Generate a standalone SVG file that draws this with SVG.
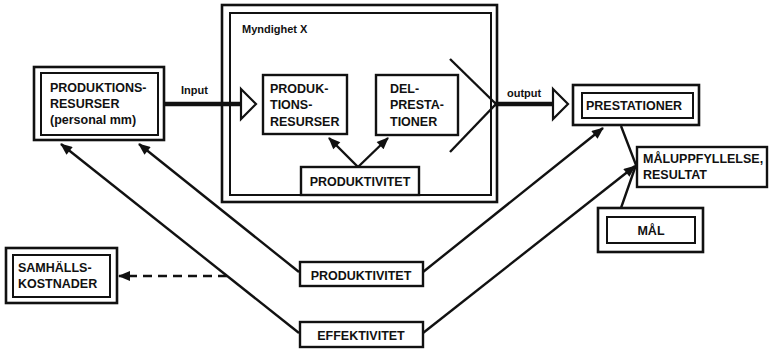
<svg xmlns="http://www.w3.org/2000/svg" width="771" height="351" viewBox="0 0 771 351">
<defs>
<style>
rect{fill:none;stroke:#111}
.o{stroke-width:2.6}
.i{stroke-width:2}
.s{stroke-width:2.4;fill:#fff}
text{font-family:"Liberation Sans",Arial,sans-serif;font-weight:bold;font-size:12.5px;fill:#111}
.sm{font-size:11px}
.c{text-anchor:middle}
.ln{stroke:#111;stroke-width:2.4;fill:none}
.thick{stroke:#111;stroke-width:4.5;fill:none}
.tri{stroke:#111;stroke-width:2.2;fill:#fff}
.dash{stroke:#111;stroke-width:2.4;fill:none;stroke-dasharray:9 6}
</style>
<marker id="ah" viewBox="0 0 12 10" refX="11" refY="5" markerWidth="13" markerHeight="10" markerUnits="userSpaceOnUse" orient="auto">
<path d="M0,0 L12,5 L0,10 Z" fill="#111"/>
</marker>
</defs>
<rect width="771" height="351" fill="#fff" style="stroke:none"/>

<g id="myndighet">
<rect class="o" x="222" y="5" width="275" height="197"/>
<rect class="i" x="230" y="13" width="261" height="182"/>
<text class="sm" x="242" y="33">Myndighet X</text>
</g>

<g id="connectors">
<line class="thick" x1="164" y1="104" x2="242" y2="104"/>
<path class="tri" d="M241,89 L256,104 L241,119 Z"/>
<line class="ln" x1="450" y1="59" x2="496" y2="104"/>
<line class="ln" x1="450" y1="152" x2="496" y2="104"/>
<line class="thick" x1="495" y1="104" x2="554" y2="104"/>
<path class="tri" d="M553,89 L568,104 L553,119 Z"/>
<line class="ln" x1="358" y1="167" x2="329" y2="138" marker-end="url(#ah)"/>
<line class="ln" x1="358" y1="167" x2="388" y2="138" marker-end="url(#ah)"/>
<line class="ln" x1="299" y1="272" x2="139" y2="144" marker-end="url(#ah)"/>
<line class="ln" x1="299" y1="333" x2="61" y2="144" marker-end="url(#ah)"/>
<line class="ln" x1="423" y1="272" x2="603" y2="128" marker-end="url(#ah)"/>
<line class="ln" x1="423" y1="333" x2="635" y2="166" marker-end="url(#ah)"/>
<line class="dash" x1="227" y1="276" x2="119" y2="276" marker-end="url(#ah)"/>
<polyline class="ln" points="621,126 636,165 621,208"/>
<text class="sm" x="181" y="94">Input</text>
<text class="sm" x="507" y="97">output</text>
</g>

<g id="produktionsresurser">
<rect class="o" x="34" y="67" width="130" height="73"/>
<rect class="i" x="41" y="73" width="117" height="62"/>
<text x="50" y="92">PRODUKTIONS-</text>
<text x="50" y="108">RESURSER</text>
<text x="50" y="124">(personal mm)</text>
</g>

<g id="inner-produktionsresurser">
<rect class="s" x="263" y="75" width="84" height="59"/>
<text x="270" y="93">PRODUK-</text>
<text x="270" y="109">TIONS-</text>
<text x="270" y="126">RESURSER</text>
</g>

<g id="delprestationer">
<rect class="s" x="376" y="75" width="82" height="60"/>
<text x="390" y="93">DEL-</text>
<text x="390" y="109">PRESTA-</text>
<text x="390" y="126">TIONER</text>
</g>

<g id="produktivitet-inner">
<rect class="s" x="301" y="167" width="118" height="28"/>
<text class="c" x="360" y="186">PRODUKTIVITET</text>
</g>

<g id="prestationer">
<rect class="o" x="573" y="85" width="126" height="40"/>
<rect class="i" x="582" y="93" width="111" height="25"/>
<text x="586" y="110">PRESTATIONER</text>
</g>

<g id="maluppfyllelse">
<rect class="s" x="637" y="147" width="130" height="40"/>
<text x="643" y="163">MÅLUPPFYLLELSE,</text>
<text x="643" y="179">RESULTAT</text>
</g>

<g id="mal">
<rect class="o" x="598" y="208" width="105" height="44" style="fill:#fff"/>
<rect class="i" x="607" y="217" width="88" height="26"/>
<text class="c" x="651" y="235">MÅL</text>
</g>

<g id="samhallskostnader">
<rect class="o" x="6" y="248" width="111" height="55"/>
<rect class="i" x="13" y="255" width="97" height="42"/>
<text x="18" y="272">SAMHÄLLS-</text>
<text x="18" y="288">KOSTNADER</text>
</g>

<g id="produktivitet">
<rect class="s" x="300" y="262" width="123" height="24"/>
<text class="c" x="361" y="280">PRODUKTIVITET</text>
</g>

<g id="effektivitet">
<rect class="s" x="300" y="322" width="123" height="25"/>
<text class="c" x="361" y="340">EFFEKTIVITET</text>
</g>
</svg>
